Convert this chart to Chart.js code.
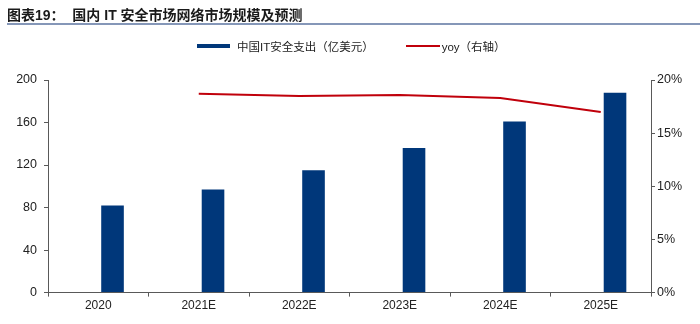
<!DOCTYPE html>
<html>
<head>
<meta charset="utf-8">
<script src="https://cdn.jsdelivr.net/npm/chart.js@4/dist/chart.umd.min.js"></script>
<style>
    html, body { margin: 0; padding: 0; background: #fff; }
    #wrap { position: relative; width: 700px; height: 324px; overflow: hidden; }
    #title {
        position: absolute; left: 7px; top: 4px;
        font: bold 14px "Liberation Sans", "Noto Sans CJK SC", sans-serif;
        color: #1a1a1a; white-space: pre;
    }
    #rule { position: absolute; left: 7px; top: 23px; width: 693px; height: 2px; background: #8597b8; }
    #legend {
        position: absolute; top: 38px; left: 197px;
        display: flex; align-items: center;
        font: 11.5px "Liberation Sans", "Noto Sans CJK SC", sans-serif; color: #222;
    }
    .legend-item { display: flex; align-items: center; }
    .legend-bar { display: inline-block; width: 33px; height: 4px; background: #00377a; margin-right: 7px; }
    .legend-line { display: inline-block; width: 34px; height: 2px; background: #c0000b; margin-right: 2px; }
    #chartBox { position: absolute; left: 0; top: 0; width: 700px; height: 324px; }
</style>
</head>
<body>
<div id="wrap">
    <div id="chartBox"><canvas id="itChart"></canvas></div>
    <div id="title">图表19：  国内 IT 安全市场网络市场规模及预测</div>
    <div id="rule"></div>
    <div id="legend">
        <div class="legend-item"><span class="legend-bar"></span><span>中国IT安全支出（亿美元）</span></div>
        <div class="legend-item" style="margin-left:32px"><span class="legend-line"></span><span>yoy（右轴）</span></div>
    </div>
</div>
<script>
// Years on the x axis
const CATEGORIES = ['2020', '2021E', '2022E', '2023E', '2024E', '2025E'];
// China IT security spending, 100M USD
const SPENDING = [82, 97, 115, 136, 161, 188];
// Year-over-year growth, %
const YOY = [null, 18.7, 18.5, 18.6, 18.3, 17.0];
// Axis ticks
const LEFT_TICKS = [0, 40, 80, 120, 160, 200];
const RIGHT_TICKS = [0, 5, 10, 15, 20];

const BAR_COLOR = '#00377a';
const LINE_COLOR = '#c0000b';
const AXIS_COLOR = '#595959';
const TICK_FONT = { family: '"Liberation Sans", Arial, sans-serif', size: 12.5 };

// Bars sit right of the category centre, as in the source workbook
const barShift = {
    id: 'barShift',
    afterDatasetsUpdate(chart) {
        const step = chart.scales.x.width / CATEGORIES.length;
        chart.data.datasets.forEach((ds, i) => {
            if (ds.type !== 'bar') return;
            chart.getDatasetMeta(i).data.forEach(bar => { bar.x += step * 0.142; });
        });
    }
};

const ctx = document.getElementById('itChart').getContext('2d');
new Chart(ctx, {
    data: {
        labels: CATEGORIES,
        datasets: [
            {
                type: 'line',
                label: 'yoy（右轴）',
                data: YOY,
                yAxisID: 'y1',
                borderColor: LINE_COLOR,
                borderWidth: 2,
                pointRadius: 0,
                tension: 0,
                order: 0
            },
            {
                type: 'bar',
                label: '中国IT安全支出（亿美元）',
                data: SPENDING,
                yAxisID: 'y',
                backgroundColor: BAR_COLOR,
                categoryPercentage: 0.225,
                barPercentage: 1,
                order: 1
            }
        ]
    },
    options: {
        responsive: true,
        maintainAspectRatio: false,
        animation: false,
        layout: { padding: { top: 80, bottom: 9 } },
        plugins: {
            legend: { display: false },
            tooltip: { enabled: false }
        },
        scales: {
            x: {
                grid: { drawOnChartArea: false, offset: true, tickLength: 4, color: AXIS_COLOR },
                border: { color: AXIS_COLOR },
                ticks: { font: { ...TICK_FONT, size: 12 }, color: '#222', padding: 2, maxRotation: 0 }
            },
            y: {
                position: 'left',
                min: 0, max: 200,
                afterBuildTicks: s => { s.ticks = LEFT_TICKS.map(v => ({ value: v })); },
                afterFit: s => { s.width = 48; },
                grid: { drawOnChartArea: false, tickLength: 4, color: AXIS_COLOR },
                border: { color: AXIS_COLOR },
                ticks: { font: TICK_FONT, color: '#222', padding: 7 }
            },
            y1: {
                position: 'right',
                min: 0, max: 20,
                afterBuildTicks: s => { s.ticks = RIGHT_TICKS.map(v => ({ value: v })); },
                afterFit: s => { s.width = 49; },
                grid: { drawOnChartArea: false, tickLength: 4, color: AXIS_COLOR },
                border: { color: AXIS_COLOR },
                ticks: { font: TICK_FONT, color: '#222', padding: 2, callback: v => v + '%' }
            }
        }
    },
    plugins: [barShift]
});
</script>
</body>
</html>
